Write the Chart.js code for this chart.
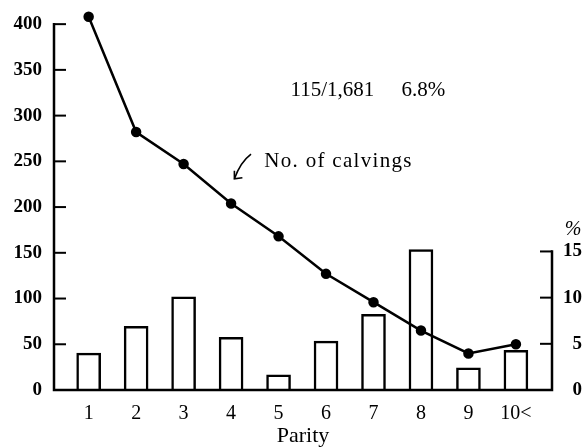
<!DOCTYPE html>
<html>
<head>
<meta charset="utf-8">
<script src="https://cdn.jsdelivr.net/npm/chart.js@4.4.0/dist/chart.umd.min.js"></script>
<style>
  html, body { margin: 0; padding: 0; background: #fff; }
  #wrap { width: 588px; height: 447px; }
</style>
</head>
<body>
<div id="wrap"><canvas id="chart" width="588" height="447"></canvas></div>
<script>
// Parity categories and values
const parity = ['1', '2', '3', '4', '5', '6', '7', '8', '9', '10<'];
const calvings = [408, 282, 247, 204, 168, 127, 96, 65, 40, 50];
const percent = [4.0, 6.9, 10.1, 5.7, 1.65, 5.3, 8.2, 15.2, 2.4, 4.3];
const leftTicks = [0, 50, 100, 150, 200, 250, 300, 350, 400];
const rightTicks = [0, 5, 10, 15];

const NUM_FONT = 'Liberation Serif';
const TEXT_FONT = 'Liberation Serif';

// no extra label overhang padding, so the plot box stays where the layout puts it
function noOverhang(s) {
    s.paddingTop = 0; s.paddingBottom = 0;
    s.paddingLeft = 0; s.paddingRight = 0;
}

// draws the axis lines and inward tick marks, plus the free text
const framePlugin = {
    id: 'frame',
    afterDraw(chart) {
        const ctx = chart.ctx;
        const x = chart.scales.x, y = chart.scales.y, y2 = chart.scales.y2;
        const left = x.left, right = x.right, bottom = y.getPixelForValue(0);
        ctx.save();
        ctx.strokeStyle = '#000';
        ctx.lineWidth = 2.5;
        ctx.lineCap = 'square';
        ctx.beginPath();
        ctx.moveTo(left, y.getPixelForValue(400));
        ctx.lineTo(left, bottom);
        ctx.lineTo(right, bottom);
        ctx.lineTo(right, y2.getPixelForValue(15));
        ctx.stroke();

        ctx.lineWidth = 2;
        ctx.lineCap = 'butt';
        leftTicks.slice(1).forEach(v => {
            const py = y.getPixelForValue(v);
            ctx.beginPath();
            ctx.moveTo(left, py);
            ctx.lineTo(left + 12, py);
            ctx.stroke();
        });
        rightTicks.slice(1).forEach(v => {
            const py = y2.getPixelForValue(v);
            ctx.beginPath();
            ctx.moveTo(right, py);
            ctx.lineTo(right - 12, py);
            ctx.stroke();
        });

        // % unit above the right axis
        ctx.fillStyle = '#000';
        ctx.font = 'italic 20px ' + TEXT_FONT;
        ctx.textAlign = 'center';
        ctx.textBaseline = 'middle';
        ctx.fillText('%', right + 21, y2.getPixelForValue(15) - 22);

        // annotations
        ctx.font = '21px ' + TEXT_FONT;
        ctx.textAlign = 'left';
        ctx.fillText('115/1,681', x.getPixelForValue(5.25), y.getPixelForValue(327));
        ctx.fillText('6.8%', x.getPixelForValue(7.59), y.getPixelForValue(327));
        ctx.letterSpacing = '1.3px';
        ctx.fillText('No. of calvings', x.getPixelForValue(4.7), y.getPixelForValue(250));
        ctx.letterSpacing = '0px';

        // small curved arrow pointing at the line
        const tx = x.getPixelForValue(4.07), ty = y.getPixelForValue(231);
        const sx = x.getPixelForValue(4.42), sy = y.getPixelForValue(258);
        ctx.lineWidth = 1.6;
        ctx.beginPath();
        ctx.moveTo(sx, sy);
        ctx.quadraticCurveTo(tx + 6, sy + 8, tx, ty);
        ctx.stroke();
        ctx.beginPath();
        ctx.moveTo(tx, ty - 8);
        ctx.lineTo(tx, ty);
        ctx.lineTo(tx + 8, ty - 1);
        ctx.stroke();
        ctx.restore();
    }
};

new Chart(document.getElementById('chart'), {
    type: 'bar',
    data: {
        datasets: [{
            type: 'line',
            label: 'No. of calvings',
            data: calvings.map((v, i) => ({ x: i + 1, y: v })),
            yAxisID: 'y',
            borderColor: '#000',
            borderWidth: 2.5,
            pointRadius: 4,
            pointBackgroundColor: '#000',
            pointBorderColor: '#000',
            tension: 0,
            clip: false,
            order: 0
        }, {
            type: 'bar',
            label: '%',
            data: percent.map((v, i) => ({ x: i + 1, y: v })),
            yAxisID: 'y2',
            backgroundColor: '#fff',
            borderColor: '#000',
            borderWidth: 2.5,
            barThickness: 24,
            order: 1
        }]
    },
    options: {
        responsive: false,
        animation: false,
        layout: { padding: { top: 15, left: 0, right: 6, bottom: 0 } },
        plugins: {
            legend: { display: false },
            tooltip: { enabled: false }
        },
        scales: {
            x: {
                type: 'linear',
                offset: false,
                min: 0.27,
                max: 10.76,
                afterBuildTicks: s => { s.ticks = parity.map((p, i) => ({ value: i + 1 })); },
                afterFit: s => { s.height = 57; noOverhang(s); },
                grid: { display: false, drawTicks: false, offset: false },
                border: { display: false },
                ticks: {
                    color: '#000',
                    font: { family: NUM_FONT, size: 20 },
                    padding: 12,
                    maxRotation: 0,
                    autoSkip: false,
                    callback: v => parity[v - 1]
                },
                title: {
                    display: true,
                    text: 'Parity',
                    color: '#000',
                    font: { family: TEXT_FONT, size: 22, lineHeight: 1.0 },
                    padding: { top: 0, bottom: 0 }
                }
            },
            y: {
                position: 'left',
                min: 0,
                max: 410,
                afterBuildTicks: s => { s.ticks = leftTicks.map(v => ({ value: v })); },
                afterFit: s => { s.width = 54; noOverhang(s); },
                grid: { display: false, drawTicks: false },
                border: { display: false },
                ticks: {
                    color: '#000',
                    font: { family: NUM_FONT, size: 19, weight: 'bold' },
                    padding: 12
                }
            },
            y2: {
                position: 'right',
                min: 0,
                max: 40.6,
                afterBuildTicks: s => { s.ticks = rightTicks.map(v => ({ value: v })); },
                afterFit: s => { s.width = 30; noOverhang(s); },
                grid: { display: false, drawTicks: false },
                border: { display: false },
                ticks: {
                    color: '#000',
                    font: { family: NUM_FONT, size: 19, weight: 'bold' },
                    padding: 8,
                    crossAlign: 'far'
                }
            }
        }
    },
    plugins: [framePlugin]
});
</script>
</body>
</html>
